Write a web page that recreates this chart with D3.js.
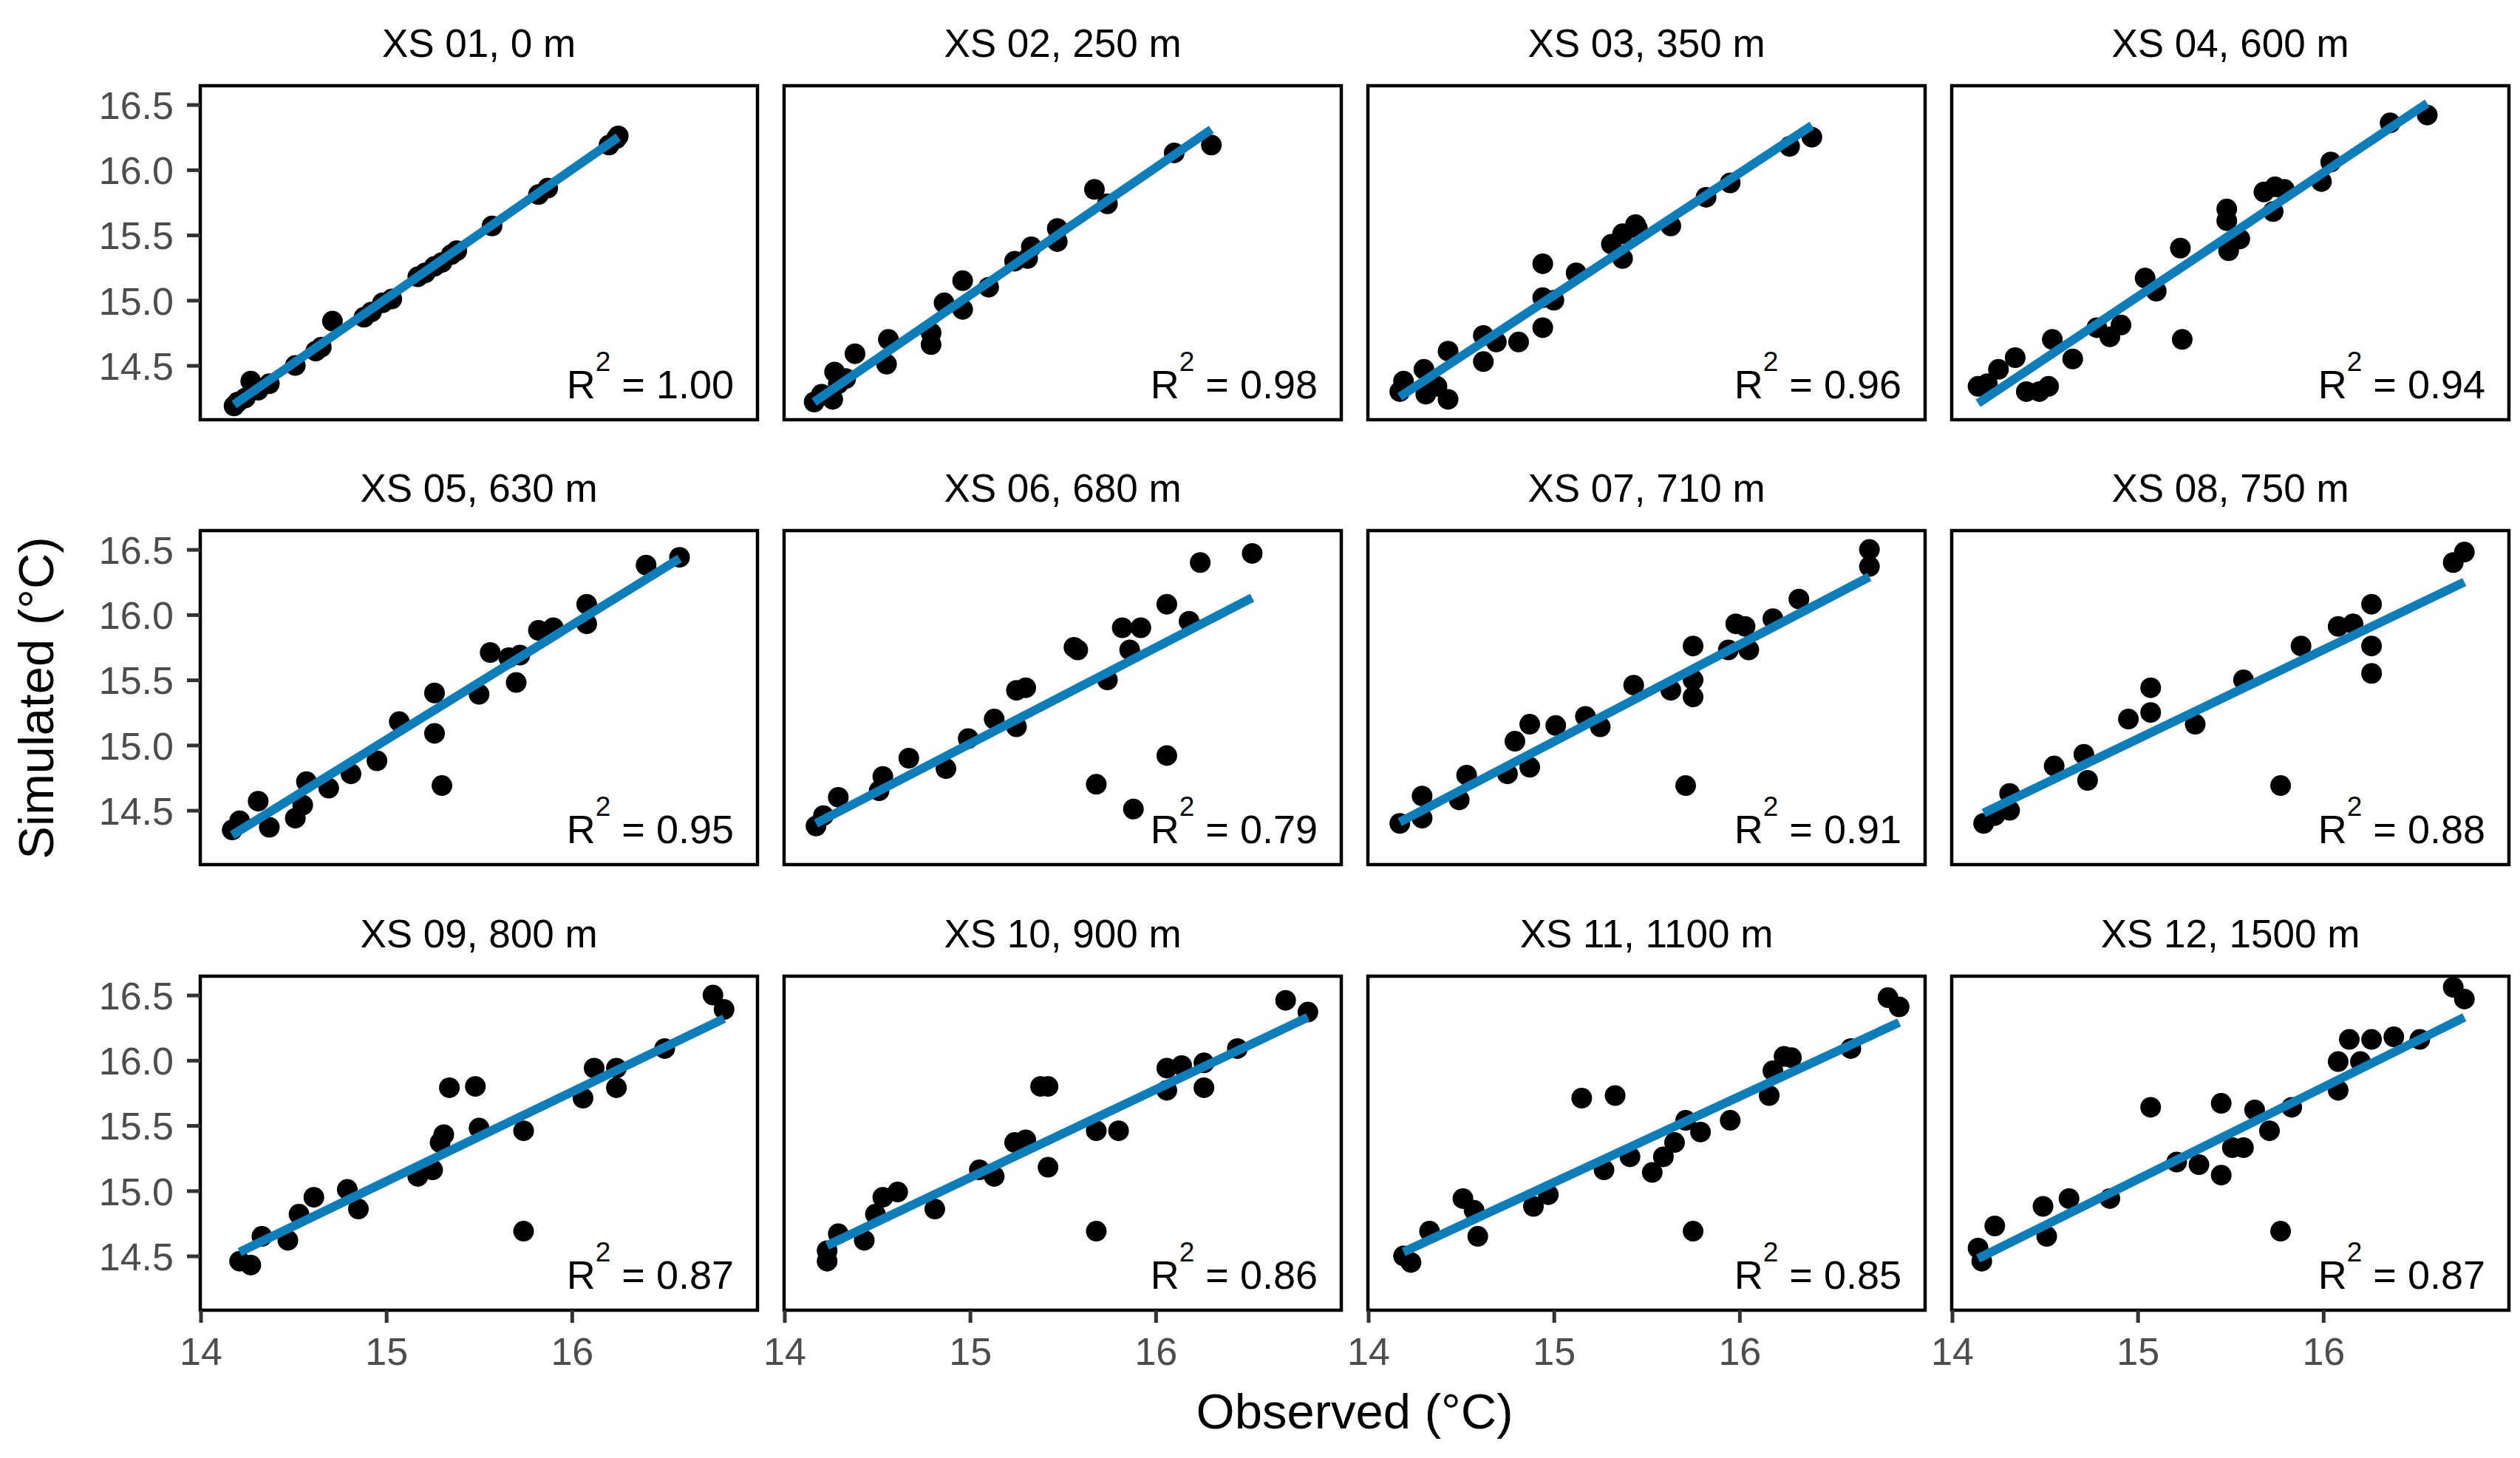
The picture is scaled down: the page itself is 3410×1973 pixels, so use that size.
<!DOCTYPE html>
<html>
<head>
<meta charset="utf-8">
<script src="https://cdn.jsdelivr.net/npm/d3@7"></script>
<style>
  html, body { margin: 0; padding: 0; background: #ffffff; }
  svg { display: block; }
  text { font-family: "Liberation Sans", Arial, sans-serif; }
</style>
</head>
<body>
<svg id="chart" width="3410" height="1973"></svg>
<script>
// ---------- data ----------
const panelTitles = ["XS 01, 0 m","XS 02, 250 m","XS 03, 350 m","XS 04, 600 m",
                     "XS 05, 630 m","XS 06, 680 m","XS 07, 710 m","XS 08, 750 m",
                     "XS 09, 800 m","XS 10, 900 m","XS 11, 1100 m","XS 12, 1500 m"];
const r2Values = ["1.00","0.98","0.96","0.94","0.95","0.79","0.91","0.88","0.87","0.86","0.85","0.87"];

const xs01Obs = [14.18,14.20,14.24,14.27,14.31,14.37,14.51,14.62,14.65,14.71,14.88,14.92,14.98,15.03,15.17,15.21,15.26,15.30,15.35,15.38,15.57,15.82,15.87,16.20,16.24,16.25];
const xs01Sim = [14.19,14.22,14.25,14.38,14.31,14.36,14.50,14.61,14.64,14.84,14.87,14.91,14.98,15.01,15.18,15.21,15.26,15.29,15.35,15.38,15.57,15.81,15.86,16.19,16.24,16.26];

const xs02Obs = [14.16,14.20,14.26,14.27,14.29,14.33,14.38,14.55,14.56,14.79,14.79,14.86,14.96,14.96,15.10,15.24,15.31,15.33,15.47,15.47,15.67,15.74,16.10,16.30];
const xs02Sim = [14.22,14.28,14.24,14.45,14.36,14.40,14.59,14.51,14.70,14.75,14.66,14.98,15.15,14.93,15.10,15.30,15.32,15.41,15.55,15.45,15.85,15.74,16.13,16.19];

const xs03Obs = [14.17,14.19,14.30,14.31,14.37,14.43,14.43,14.62,14.62,14.69,14.81,14.94,14.94,14.94,15.00,15.12,15.31,15.37,15.37,15.44,15.45,15.63,15.82,15.95,16.27,16.39];
const xs03Sim = [14.30,14.38,14.47,14.28,14.34,14.61,14.24,14.53,14.73,14.68,14.68,14.79,15.28,15.02,15.00,15.21,15.43,15.32,15.51,15.58,15.55,15.57,15.79,15.90,16.18,16.25];

const xs04Obs = [14.14,14.19,14.25,14.34,14.40,14.47,14.52,14.54,14.65,14.78,14.85,14.91,15.04,15.10,15.23,15.24,15.48,15.48,15.49,15.55,15.68,15.73,15.74,15.79,15.99,16.04,16.36,16.56];
const xs04Sim = [14.34,14.36,14.47,14.56,14.30,14.30,14.34,14.70,14.55,14.79,14.72,14.81,15.17,15.07,15.40,14.70,15.70,15.61,15.38,15.47,15.83,15.68,15.87,15.85,15.91,16.06,16.36,16.42];

const xs05Obs = [14.17,14.21,14.31,14.37,14.51,14.55,14.57,14.69,14.81,14.95,15.07,15.26,15.26,15.30,15.50,15.56,15.66,15.70,15.72,15.82,15.90,16.08,16.08,16.40,16.58];
const xs05Sim = [14.35,14.42,14.57,14.37,14.44,14.54,14.72,14.67,14.78,14.88,15.18,15.40,15.09,14.69,15.39,15.71,15.67,15.48,15.69,15.88,15.90,16.08,15.93,16.38,16.44];

const xs06Obs = [14.17,14.21,14.29,14.51,14.53,14.67,14.87,14.99,15.13,15.25,15.25,15.30,15.56,15.58,15.68,15.74,15.82,15.86,15.88,15.92,16.06,16.06,16.18,16.24,16.52];
const xs06Sim = [14.38,14.46,14.60,14.65,14.76,14.90,14.82,15.05,15.20,15.14,15.42,15.44,15.75,15.73,14.70,15.50,15.90,15.73,14.51,15.90,14.92,16.08,15.95,16.40,16.47];

const xs07Obs = [14.17,14.29,14.29,14.49,14.53,14.75,14.79,14.87,14.87,15.01,15.17,15.25,15.43,15.63,15.71,15.75,15.75,15.75,15.94,15.98,16.03,16.05,16.18,16.32,16.70,16.70];
const xs07Sim = [14.40,14.61,14.44,14.58,14.77,14.78,15.03,15.16,14.83,15.15,15.22,15.14,15.46,15.42,14.69,15.76,15.50,15.37,15.73,15.93,15.91,15.73,15.97,16.12,16.50,16.37];

const xs08Obs = [14.17,14.23,14.31,14.31,14.55,14.71,14.73,14.95,15.07,15.07,15.31,15.57,15.77,15.88,16.08,16.16,16.26,16.26,16.26,16.70,16.76];
const xs08Sim = [14.40,14.46,14.63,14.50,14.84,14.93,14.73,15.20,15.44,15.25,15.16,15.50,14.69,15.76,15.91,15.93,16.08,15.76,15.55,16.40,16.48];

const xs09Obs = [14.21,14.27,14.33,14.47,14.53,14.61,14.79,14.85,15.17,15.25,15.29,15.31,15.34,15.48,15.50,15.74,15.74,16.06,16.12,16.24,16.24,16.50,16.76,16.82];
const xs09Sim = [14.46,14.43,14.65,14.62,14.82,14.95,15.01,14.86,15.11,15.16,15.37,15.43,15.79,15.80,15.48,14.69,15.46,15.71,15.94,15.94,15.79,16.09,16.50,16.39];

const xs10Obs = [14.23,14.23,14.29,14.43,14.49,14.53,14.61,14.81,15.05,15.13,15.24,15.30,15.38,15.42,15.42,15.68,15.68,15.80,16.06,16.06,16.14,16.26,16.26,16.44,16.70,16.82];
const xs10Sim = [14.46,14.54,14.67,14.62,14.82,14.95,14.99,14.86,15.16,15.11,15.37,15.39,15.80,15.80,15.18,15.46,14.69,15.46,15.77,15.94,15.96,15.98,15.79,16.09,16.46,16.37];

const xs11Obs = [14.19,14.23,14.33,14.51,14.57,14.59,14.89,14.97,15.15,15.27,15.33,15.41,15.53,15.59,15.65,15.71,15.75,15.79,15.95,16.16,16.18,16.24,16.28,16.60,16.80,16.86];
const xs11Sim = [14.50,14.45,14.69,14.94,14.85,14.65,14.88,14.97,15.71,15.16,15.73,15.26,15.14,15.26,15.37,15.54,14.69,15.45,15.54,15.73,15.92,16.03,16.02,16.09,16.48,16.41];

const xs12Obs = [14.14,14.16,14.23,14.49,14.51,14.63,14.85,15.07,15.21,15.33,15.45,15.45,15.51,15.57,15.63,15.71,15.77,15.83,16.08,16.08,16.14,16.20,16.26,16.38,16.52,16.70,16.76];
const xs12Sim = [14.56,14.46,14.73,14.88,14.65,14.94,14.94,15.64,15.22,15.20,15.12,15.67,15.33,15.33,15.62,15.46,14.69,15.64,15.77,15.99,16.16,15.99,16.16,16.18,16.16,16.56,16.47];

const fitStart = [14.20,14.22,14.26,14.21,14.31,14.40,14.41,14.48,14.53,14.58,14.53,14.48];
const fitEnd   = [16.25,16.31,16.34,16.51,16.43,16.13,16.29,16.25,16.32,16.33,16.29,16.33];

const xTicks = [14, 15, 16];
const yTicks = [14.5, 15.0, 15.5, 16.0, 16.5];
const xTitle = "Observed (°C)";
const yTitle = "Simulated (°C)";

const observed = [xs01Obs,xs02Obs,xs03Obs,xs04Obs,xs05Obs,xs06Obs,xs07Obs,xs08Obs,xs09Obs,xs10Obs,xs11Obs,xs12Obs];
const simulated = [xs01Sim,xs02Sim,xs03Sim,xs04Sim,xs05Sim,xs06Sim,xs07Sim,xs08Sim,xs09Sim,xs10Sim,xs11Sim,xs12Sim];

// ---------- layout ----------
const svg = d3.select("#chart");
svg.append("rect").attr("width", 3410).attr("height", 1973).attr("fill", "#ffffff");

const colLeft = [271, 1061, 1851, 2641];
const rowTop = [116, 718, 1321];
const pw = 754, ph = 452;

const x = d3.scaleLinear().domain([13.998, 17.0]).range([0, pw]);
const y = d3.scaleLinear().domain([14.084, 16.645]).range([ph, 0]);

const lineColor = "#0E7EBA";

panelTitles.forEach((title, i) => {
  const col = i % 4, row = Math.floor(i / 4);
  const g = svg.append("g").attr("transform", `translate(${colLeft[col]},${rowTop[row]})`);

  g.append("clipPath").attr("id", "clip" + i)
    .append("rect").attr("width", pw).attr("height", ph);

  const body = g.append("g").attr("clip-path", `url(#clip${i})`);
  const pts = observed[i].map((o, k) => ({ o, s: simulated[i][k] }));

  body.selectAll("circle").data(pts).join("circle")
    .attr("cx", d => x(d.o)).attr("cy", d => y(d.s))
    .attr("r", 14).attr("fill", "#000000");

  const ext = d3.extent(observed[i]);
  body.append("line")
    .attr("x1", x(ext[0])).attr("y1", y(fitStart[i]))
    .attr("x2", x(ext[1])).attr("y2", y(fitEnd[i]))
    .attr("stroke", lineColor).attr("stroke-width", 12).attr("stroke-linecap", "butt");

  g.append("rect").attr("width", pw).attr("height", ph)
    .attr("fill", "none").attr("stroke", "#000000").attr("stroke-width", 4.5);

  // R² label
  const t = g.append("text")
    .attr("x", pw - 32).attr("y", ph - 29)
    .attr("text-anchor", "end").attr("font-size", 54).attr("fill", "#000000");
  t.append("tspan").text("R");
  t.append("tspan").attr("font-size", 37).attr("dy", -37).text("2");
  t.append("tspan").attr("dy", 37).text(" = " + r2Values[i]);

  // strip title
  g.append("text")
    .attr("x", pw / 2).attr("y", -39)
    .attr("text-anchor", "middle").attr("font-size", 53).attr("fill", "#000000")
    .text(title);

  if (col === 0) {
    const ax = g.append("g").call(
      d3.axisLeft(y).tickValues(yTicks).tickFormat(d3.format(".1f")).tickSize(18).tickPadding(18));
    ax.select(".domain").remove();
    ax.selectAll(".tick line").attr("stroke", "#333333").attr("stroke-width", 5);
    ax.selectAll(".tick text").attr("font-size", 52).attr("fill", "#4D4D4D")
      .attr("font-family", "Liberation Sans, Arial, sans-serif").attr("dy", "0.36em");
  }
  if (row === 2) {
    const ax = g.append("g").attr("transform", `translate(0,${ph})`).call(
      d3.axisBottom(x).tickValues(xTicks).tickFormat(d3.format("d")).tickSize(17).tickPadding(20));
    ax.select(".domain").remove();
    ax.selectAll(".tick line").attr("stroke", "#333333").attr("stroke-width", 5);
    ax.selectAll(".tick text").attr("font-size", 52).attr("fill", "#4D4D4D")
      .attr("font-family", "Liberation Sans, Arial, sans-serif");
  }
});

// axis titles
svg.append("text")
  .attr("x", (colLeft[0] + colLeft[3] + pw) / 2).attr("y", 1933)
  .attr("text-anchor", "middle").attr("font-size", 67).attr("fill", "#000000")
  .text(xTitle);

svg.append("text")
  .attr("transform", `translate(72,${(rowTop[0] + rowTop[2] + ph) / 2}) rotate(-90)`)
  .attr("text-anchor", "middle").attr("font-size", 67).attr("fill", "#000000")
  .text(yTitle);
</script>
</body>
</html>
